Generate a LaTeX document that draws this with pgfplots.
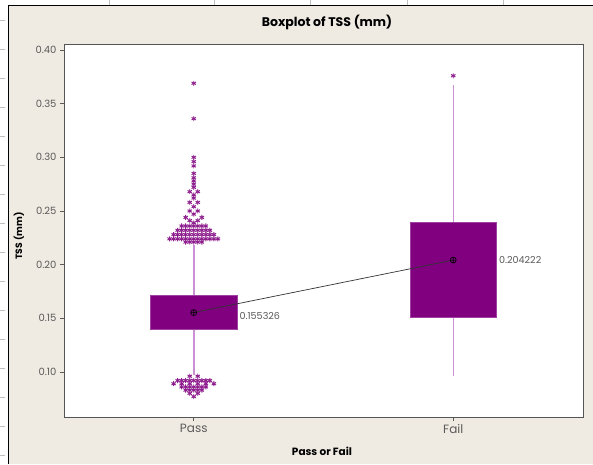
\documentclass[border=0pt]{standalone}
\usepackage{pgfplots}
\pgfplotsset{compat=1.18}
\usepackage{fontspec}
\setmainfont{Poppins}
\definecolor{bgbeige}{HTML}{EFEBE2}
\definecolor{purp}{HTML}{800080}
\definecolor{whisk}{HTML}{CC90D6}
\definecolor{starp}{HTML}{8E1E8E}
\definecolor{tickgray}{HTML}{5A5A5A}
\definecolor{framegray}{HTML}{555555}
\begin{document}
\begin{tikzpicture}
\useasboundingbox (0pt,0pt) rectangle (593pt,464pt);
\fill[white] (0pt,0pt) rectangle (593pt,464pt);
\fill[bgbeige] (8pt,0pt) rectangle (593pt,459pt);
\foreach \yy in {9,38,67,96,125,154,183,212,241,270,299,328,357,386,415,444}
  \draw[black!25, line width=0.6pt] (0pt,\yy pt) -- (5pt,\yy pt);
\foreach \xx in {109,214,310,407,503}
  \draw[black!25, line width=0.6pt] (\xx pt,459pt) -- (\xx pt,464pt);
\draw[black, line width=0.9pt] (8pt,0pt) -- (8pt,459pt) -- (593pt,459pt);
\node[font=\bfseries\fontsize{12.5}{14}\selectfont, text=black] at (327pt,442pt) {Boxplot of TSS (mm)};
\node[font=\bfseries\fontsize{9.2}{11}\selectfont, rotate=90] at (19pt,228pt) {TSS (mm)};
\node[font=\bfseries\fontsize{10.5}{12}\selectfont] at (322pt,13pt) {Pass or Fail};
\begin{axis}[
  at={(64pt,47pt)}, anchor=south west,
  scale only axis, width=519pt, height=373pt,
  xmin=0.5, xmax=2.5, ymin=0.058, ymax=0.4056,
  axis background/.style={fill=white},
  axis line style={draw=framegray, line width=0.8pt},
  xtick={1,2}, xticklabels={Pass,Fail},
  ytick={0.10,0.15,0.20,0.25,0.30,0.35,0.40},
  tick align=outside, tick pos=left,
  major tick length=4pt,
  tick style={draw=tickgray, line width=0.6pt},
  yticklabel style={font=\fontsize{10}{12}\selectfont, text=tickgray, /pgf/number format/.cd, fixed, fixed zerofill, precision=2, assume math mode=true},
  xticklabel style={font=\fontsize{12}{14}\selectfont, text=tickgray},
  clip=false,
]
% whiskers
\addplot[draw=whisk, line width=1.5pt] coordinates {(1,0.0975) (1,0.140)};
\addplot[draw=whisk, line width=1.5pt] coordinates {(1,0.171) (1,0.218)};
\addplot[draw=whisk, line width=1.5pt] coordinates {(2,0.0965) (2,0.151)};
\addplot[draw=whisk, line width=1.5pt] coordinates {(2,0.2396) (2,0.367)};
% boxes (Q1 to Q3)
\addplot[fill=purp, draw=purp!75!white, line width=0.5pt] coordinates {(0.8325,0.140) (1.1675,0.140) (1.1675,0.171) (0.8325,0.171)} -- cycle;
\addplot[fill=purp, draw=purp!75!white, line width=0.5pt] coordinates {(1.8325,0.151) (2.1675,0.151) (2.1675,0.2396) (1.8325,0.2396)} -- cycle;
% outliers
\addplot[only marks, mark=asterisk, mark size=2.5pt, color=starp, mark options={line width=0.95pt}] coordinates {
(1,0.369)(1,0.336)
(1,0.300)(1,0.296)(1,0.292)
(1,0.285)(1,0.281)(1,0.278)(1,0.275)(1,0.272)
(0.9845,0.268)(1.0155,0.268)(1,0.265)
(1,0.262)(0.9845,0.258)(1.0155,0.258)
(1,0.254)(0.9845,0.250)(1.0155,0.250)(1,0.247)
(0.969,0.244)(1.031,0.244)(0.9845,0.241)(1.0155,0.241)(1,0.239)
(0.9535,0.236)(0.969,0.236)(0.9845,0.236)(1,0.236)(1.0155,0.236)(1.031,0.236)(1.0465,0.236)
(0.938,0.232)(0.9535,0.232)(0.969,0.232)(0.9845,0.232)(1,0.232)(1.0155,0.232)(1.031,0.232)(1.0465,0.232)(1.062,0.232)
(0.9225,0.228)(0.938,0.228)(0.9535,0.228)(0.969,0.228)(0.9845,0.228)(1,0.228)(1.0155,0.228)(1.031,0.228)(1.0465,0.228)(1.062,0.228)(1.0775,0.228)
(0.907,0.224)(0.9225,0.224)(0.938,0.224)(0.9535,0.224)(0.969,0.224)(0.9845,0.224)(1,0.224)(1.0155,0.224)(1.031,0.224)(1.0465,0.224)(1.062,0.224)(1.0775,0.224)(1.093,0.224)
(0.969,0.221)(0.9845,0.221)(1,0.221)(1.0155,0.221)(1.031,0.221)
(0.9845,0.096)(1.0155,0.096)
(0.938,0.092)(0.9535,0.092)(0.969,0.092)(0.9845,0.092)(1,0.092)(1.0155,0.092)(1.031,0.092)(1.0465,0.092)(1.062,0.092)
(0.9225,0.089)(0.9535,0.089)(0.9845,0.089)(1.0155,0.089)(1.0465,0.089)(1.0775,0.089)
(0.9535,0.086)(0.969,0.086)(0.9845,0.086)(1,0.086)(1.0155,0.086)(1.031,0.086)(1.0465,0.086)
(0.969,0.083)(0.9845,0.083)(1,0.083)(1.0155,0.083)(1.031,0.083)
(0.9845,0.080)(1.0155,0.080)
(1,0.077)
(2,0.376)
};
% mean connect line
\addplot[black!80, line width=0.7pt, mark=oplus, mark size=3pt, mark options={black, line width=0.6pt, fill=none}] coordinates {(1,0.155326) (2,0.204222)};
\node[anchor=west, font=\fontsize{9.6}{11}\selectfont, text=tickgray, inner sep=1pt] at (axis cs:1.172,0.1525) {0.155326};
\node[anchor=west, font=\fontsize{9.6}{11}\selectfont, text=tickgray, inner sep=1pt] at (axis cs:2.172,0.2045) {0.204222};
\end{axis}
\end{tikzpicture}
\end{document}
